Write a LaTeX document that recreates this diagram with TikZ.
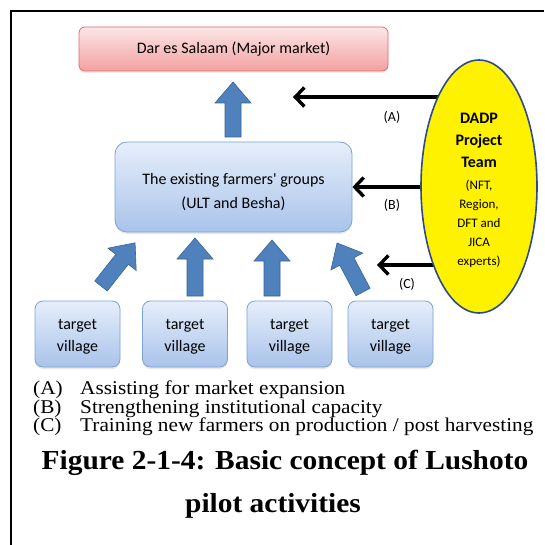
\documentclass[tikz,border=0pt]{standalone}
\usepackage{fontspec}
\setmainfont{Liberation Serif}
\newfontfamily\calibri{Carlito}
\usetikzlibrary{shapes.geometric,arrows.meta,backgrounds,shadows}

\definecolor{pinktop}{HTML}{FCE6E6}
\definecolor{pinkbot}{HTML}{F3A0A0}
\definecolor{pinkline}{HTML}{E06A6A}
\definecolor{bluetop}{HTML}{E6EEFB}
\definecolor{bluebot}{HTML}{A9C3EA}
\definecolor{blueline}{HTML}{7FA2D4}
\definecolor{arrowfill}{HTML}{4F81BD}
\definecolor{arrowline}{HTML}{3A6494}
\definecolor{teamline}{HTML}{2E4B8A}

% blue block arrow: tail point, direction (degrees), length
\newcommand\bluearrow[3]{%
  \path[blockarrow, shift={(#1)}, rotate=#2]
    (0,-8) -- ({#3-21},-8) -- ({#3-21},-18) -- (#3,0) -- ({#3-21},18)
    -- ({#3-21},8) -- (0,8) -- cycle;}

\tikzset{
  boxfont/.style={font=\calibri\fontsize{16}{24}\selectfont},
  market/.style={draw=pinkline, line width=0.8pt, rounded corners=6pt,
    top color=pinktop, bottom color=pinkbot, boxfont,
    minimum width=309pt, minimum height=44pt,
    drop shadow={opacity=0.15, shadow xshift=0pt, shadow yshift=-2pt}},
  group/.style={draw=blueline, line width=0.8pt, top color=bluetop,
    bottom color=bluebot,
    drop shadow={opacity=0.18, shadow xshift=0pt, shadow yshift=-2pt}},
  farmbox/.style={group, rounded corners=12pt, minimum width=237pt, minimum height=90pt},
  villagebox/.style={group, rounded corners=8pt, minimum width=85pt, minimum height=66pt},
  boxtext/.style={align=center, inner sep=0pt, boxfont},
  villagetext/.style={align=center, inner sep=0pt, font=\calibri\fontsize{16}{22}\selectfont},
  blockarrow/.style={fill=arrowfill, draw=arrowline, line width=0.6pt},
  helparrow/.style={line width=3.4pt, -{Straight Barb[length=9pt,width=19pt]}},
  tag/.style={font=\calibri\fontsize{14}{16}\selectfont},
  legend/.style={anchor=west, font=\fontsize{19.5}{21}\selectfont, xscale=1.09, transform shape, inner sep=0pt},
  caption/.style={font=\bfseries\fontsize{27.5}{30}\selectfont, xscale=1.07, transform shape, inner sep=0pt}
}

\begin{document}
\begin{tikzpicture}[x=1pt, y=-1pt]
  \useasboundingbox (0,0) rectangle (544,545);
  \begin{scope}[on background layer]
    \fill[white] (0,0) rectangle (544,545);
  \end{scope}

  % page frame
  \draw[line width=1.6pt] (11,545) -- (11,11) -- (544,11);

  % boxes
  \node[market] (market) at (233.5,49) {Dar es Salaam (Major market)};
  \node[farmbox] (farm) at (233.5,187) {};
  \node[boxtext] (farmtext) at (233.5,192) {The existing farmers' groups\\(ULT and Besha)};
  \foreach \n/\x in {v1/77.5, v2/185, v3/289.5, v4/390.5}{
    \node[villagebox] (\n) at (\x,334) {};
    \node[villagetext] (\n text) at (\x,336.5) {target\\village};
  }

  % block arrows
  \bluearrow{233,137}{90}{55}
  \bluearrow{101,286}{51.7}{55}
  \bluearrow{195,296}{90}{58}
  \bluearrow{272,296}{90}{56}
  \bluearrow{363,292}{117.9}{55.5}

  % project team
  \node[ellipse, draw=teamline, line width=1.6pt, fill=yellow,
        minimum width=116pt, minimum height=253pt, inner sep=0pt] (team) at (479,186.5) {};
  \node[align=center, font=\calibri\fontsize{13}{19}\selectfont] (teamtext) at (479,190)
    {{\bfseries\fontsize{16}{19}\selectfont DADP}\\[3pt]
     {\bfseries\fontsize{16}{19}\selectfont Project}\\[3pt]
     {\bfseries\fontsize{16}{19}\selectfont Team}\\[3pt]
     (NFT,\\Region,\\DFT and\\JICA\\experts)};

  % support arrows from the team
  \coordinate (atip) at (293,97);
  \coordinate (ctip) at (377,265);
  \begin{scope}[on background layer]
    \draw[helparrow] (team.center |- atip) -- (atip);
    \draw[helparrow] (team.center |- farm.east) -- (farm.east);
    \draw[helparrow] (team.center |- ctip) -- (ctip);
  \end{scope}
  \node[tag] (la) at (392,117) {(A)};
  \node[tag] (lb) at (392,205) {(B)};
  \node[tag] (lc) at (407,284) {(C)};

  % legend
  \node[legend] (ka) at (33,390) {(A)};
  \node[legend] (ta) at (80,390) {Assisting for market expansion};
  \node[legend] (kb) at (33,408.5) {(B)};
  \node[legend] (tb) at (80,408.5) {Strengthening institutional capacity};
  \node[legend] (kc) at (33,427) {(C)};
  \node[legend] (tc) at (80,427) {Training new farmers on production / post harvesting};

  % caption
  \node[caption] (cap1) at (285,463) {Figure 2-1-4: Basic concept of Lushoto};
  \node[caption] (cap2) at (273,506) {pilot activities};
\end{tikzpicture}
\end{document}
